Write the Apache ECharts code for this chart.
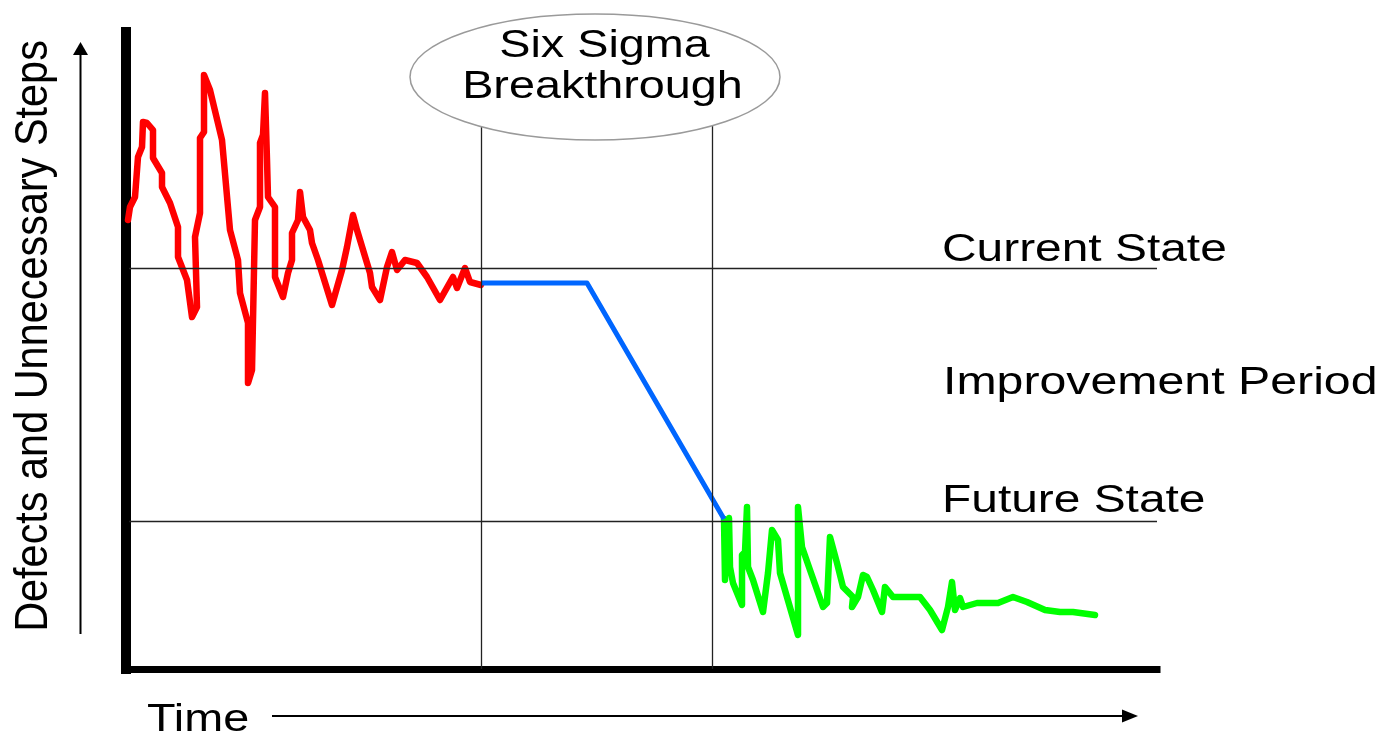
<!DOCTYPE html>
<html>
<head>
<meta charset="utf-8">
<title>Six Sigma Breakthrough</title>
<script src="https://cdn.jsdelivr.net/npm/echarts@6/dist/echarts.min.js"></script>
<style>
  html, body { margin: 0; padding: 0; background: #fff; }
  #chart { width: 1381px; height: 737px; }
</style>
</head>
<body>
<div id="chart"></div>
<script>
// values: [time, defects]
var beforeData = [
  [2, 449], [4, 462], [9, 472], [12, 512], [16, 522], [17, 547], [21, 546], [27, 539],
  [27, 511], [36, 496], [36, 482], [44, 466], [52, 442], [52, 412], [61, 389], [66, 352],
  [71, 362], [69, 432], [74, 456], [74, 531], [78, 537], [78, 594], [84, 579], [96, 529],
  [104, 439], [112, 409], [114, 376], [122, 346], [122, 286], [126, 299], [129, 449],
  [134, 462], [134, 526], [137, 534], [139, 576], [141, 509], [142, 472], [149, 462],
  [149, 392], [157, 372], [162, 396], [166, 409], [166, 436], [172, 449], [174, 477],
  [177, 452], [184, 439], [186, 426], [192, 409], [206, 364], [216, 399], [221, 422],
  [227, 454], [231, 439], [244, 396], [246, 382], [254, 369], [261, 402], [266, 417],
  [271, 399], [279, 409], [291, 406], [301, 392], [314, 369], [327, 392], [331, 381],
  [339, 401], [344, 387], [355, 384]
];
var breakthroughData = [[355, 386], [461, 386], [598, 150]];
var afterData = [
  [598, 150], [599, 89], [600, 139], [603, 151], [604, 102], [607, 86], [616, 64],
  [616, 114], [619, 117], [621, 162], [622, 102], [627, 89], [637, 57], [642, 96],
  [646, 139], [652, 129], [654, 96], [672, 34], [672, 162], [676, 122], [684, 99],
  [697, 62], [701, 66], [704, 132], [711, 106], [717, 82], [727, 72], [726, 62],
  [732, 72], [737, 94], [741, 92], [747, 79], [756, 57], [759, 82], [767, 72],
  [794, 72], [804, 59], [816, 39], [822, 62], [826, 87], [829, 59], [831, 57],
  [834, 71], [837, 62], [851, 66], [872, 66], [887, 72], [901, 67], [919, 59],
  [934, 57], [947, 57], [969, 54]
];
var currentLevel = 401;
var futureLevel = 147.5;
var phaseStarts = [355, 586];
var axisMax = { x: 1031, y: 637 };

var chart = echarts.init(document.getElementById('chart'));

var thin = { color: '#222', width: 1.3, type: 'solid' };
var font = 'Liberation Sans, Arial, sans-serif';

function label(text, x, y, extra) {
  return Object.assign({
    type: 'text', x: x, y: y, z: 110, scaleX: 1.25,
    style: {
      text: text, fill: '#000', font: '38px ' + font,
      align: 'left', verticalAlign: 'middle'
    }
  }, extra || {});
}

var option = {
  animation: false,
  backgroundColor: '#fff',
  grid: { left: 126, right: 224, top: 32, bottom: 68 },
  xAxis: {
    type: 'value', min: 0, max: axisMax.x,
    axisLine: { show: true, onZero: false, lineStyle: { color: '#000', width: 7, cap: 'square' } },
    axisTick: { show: false }, axisLabel: { show: false }, splitLine: { show: false }
  },
  yAxis: {
    type: 'value', min: 0, max: axisMax.y,
    axisLine: { show: true, onZero: false, lineStyle: { color: '#000', width: 10, cap: 'square' } },
    axisTick: { show: false }, axisLabel: { show: false }, splitLine: { show: false }
  },
  series: [
    {
      name: 'Current', type: 'line', data: beforeData, symbol: 'none', z: 3,
      lineStyle: { color: '#ff0000', width: 6.5, join: 'round', cap: 'round' },
      markLine: {
        silent: true, symbol: 'none', label: { show: false }, lineStyle: thin,
        data: [
          [{ coord: [3, currentLevel] }, { coord: [axisMax.x, currentLevel] }],
          [{ coord: [3, futureLevel] }, { coord: [axisMax.x, futureLevel] }],
          [{ coord: [phaseStarts[0], 0] }, { coord: [phaseStarts[0], 543] }],
          [{ coord: [phaseStarts[1], 0] }, { coord: [phaseStarts[1], 543] }]
        ]
      }
    },
    {
      name: 'Breakthrough', type: 'line', data: breakthroughData, symbol: 'none', z: 4,
      lineStyle: { color: '#0066ff', width: 5, join: 'round' }
    },
    {
      name: 'Future', type: 'line', data: afterData, symbol: 'none', z: 3,
      lineStyle: { color: '#00ff00', width: 6.5, join: 'round', cap: 'round' }
    }
  ],
  graphic: [
    {
      type: 'ellipse', z: 100,
      shape: { cx: 595, cy: 77, rx: 185, ry: 63 },
      style: { fill: '#fff', stroke: '#9a9a9a', lineWidth: 1.5 }
    },
    label('Six Sigma', 604.5, 47, { scaleX: 1.23, style: { text: 'Six Sigma', fill: '#000', font: '38px ' + font, align: 'center', verticalAlign: 'middle' } }),
    label('Breakthrough', 602.5, 87.5, { scaleX: 1.23, style: { text: 'Breakthrough', fill: '#000', font: '38px ' + font, align: 'center', verticalAlign: 'middle' } }),
    label('Current State', 942, 250.5, { scaleX: 1.26 }),
    label('Improvement Period', 943, 383.5, { scaleX: 1.27 }),
    label('Future State', 942, 502, { scaleX: 1.26 }),
    label('Time', 147, 720.5, { scaleX: 1.23 }),
    {
      type: 'text', x: 34, y: 336, z: 110, rotation: Math.PI / 2, scaleX: 1.09, scaleY: 1.23,
      style: {
        text: 'Defects and Unnecessary Steps', fill: '#000', font: '38px ' + font,
        align: 'center', verticalAlign: 'middle'
      }
    },
    // y arrow
    { type: 'line', z: 100, shape: { x1: 80.5, y1: 634, x2: 80.5, y2: 52 }, style: { stroke: '#000', lineWidth: 2 } },
    { type: 'polygon', z: 100, shape: { points: [[80.5, 42], [73, 55], [88, 55]] }, style: { fill: '#000' } },
    // x arrow
    { type: 'line', z: 100, shape: { x1: 272, y1: 716, x2: 1126, y2: 716 }, style: { stroke: '#000', lineWidth: 2 } },
    { type: 'polygon', z: 100, shape: { points: [[1138, 716], [1122, 709.5], [1122, 722.5]] }, style: { fill: '#000' } }
  ]
};

chart.setOption(option);
</script>
</body>
</html>
